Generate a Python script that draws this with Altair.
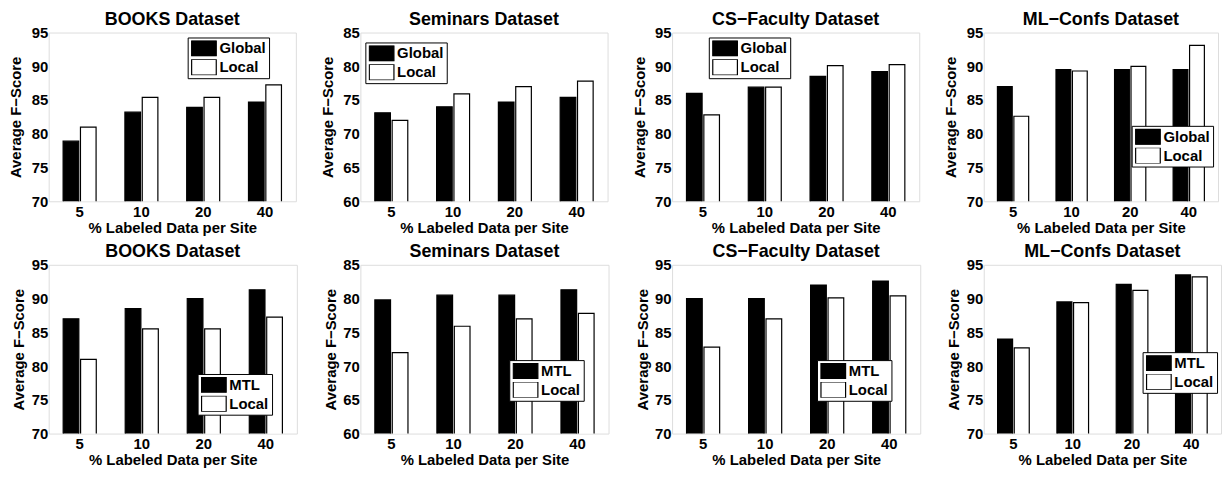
import altair as alt
import pandas as pd

pcts = ["5", "10", "20", "40"]

# Top row: Global vs Local
books_global = [78.9, 83.2, 83.9, 84.7]
books_local = [81.0, 85.4, 85.4, 87.25]
sem_global = [73.1, 74.0, 74.7, 75.4]
sem_local = [72.0, 75.9, 77.0, 77.8]
cs_global = [86.0, 86.9, 88.5, 89.2]
cs_local = [82.8, 86.9, 90.1, 90.25]
ml_global = [87.0, 89.5, 89.5, 89.5]
ml_local = [82.6, 89.3, 90.0, 93.1]

# Bottom row: MTL vs Local
books_mtl = [87.0, 88.5, 90.0, 91.3]
books_local2 = [81.0, 85.5, 85.5, 87.25]
sem_mtl = [79.8, 80.5, 80.5, 81.3]
sem_local2 = [72.0, 75.9, 77.0, 77.8]
cs_mtl = [90.0, 90.0, 92.0, 92.6]
cs_local2 = [82.8, 87.0, 90.1, 90.4]
ml_mtl = [84.0, 89.5, 92.1, 93.5]
ml_local2 = [82.7, 89.4, 91.2, 93.2]

FONT = "Liberation Sans"


def panel(title, lo, hi, name_a, vals_a, vals_b, lx, ly, w, yext, ytp):
    df = pd.DataFrame({
        "pct": pcts * 2,
        "method": [name_a] * 4 + ["Local"] * 4,
        "score": vals_a + vals_b,
    })
    order = [name_a, "Local"]
    return alt.Chart(
        df,
        title=alt.Title(title, fontSize=18, fontWeight="bold", font=FONT,
                        color="black", offset=-3, anchor="middle"),
    ).mark_bar(stroke="black", strokeWidth=1.2, clip=True).encode(
        x=alt.X("pct:N", sort=pcts,
                scale=alt.Scale(paddingInner=0, paddingOuter=0),
                axis=alt.Axis(title="% Labeled Data per Site", labelAngle=0,
                              labelFontSize=15, labelFontWeight="bold",
                              labelFont=FONT, labelColor="black",
                              labelPadding=3, ticks=False, tickSize=0,
                              domain=False, grid=False, titlePadding=1,
                              titleFontSize=15, titleFontWeight="bold",
                              titleFont=FONT, titleColor="black")),
        xOffset=alt.XOffset("method:N", sort=order,
                            scale=alt.Scale(paddingInner=0.1, paddingOuter=0.83)),
        y=alt.Y("score:Q",
                scale=alt.Scale(domain=[lo, hi], zero=False, nice=False),
                axis=alt.Axis(title="Average F\u2212Score",
                              values=list(range(lo, hi + 1, 5)),
                              labelFontSize=15, labelFontWeight="bold",
                              labelFont=FONT, labelColor="black",
                              labelPadding=1, ticks=False, tickSize=0,
                              domain=False, grid=False,
                              minExtent=yext, maxExtent=yext,
                              titlePadding=ytp, titleFontSize=15,
                              titleFontWeight="bold", titleFont=FONT,
                              titleColor="black")),
        y2=alt.datum(lo - 5),
        fill=alt.Fill("method:N", sort=order,
                      scale=alt.Scale(domain=order, range=["black", "white"]),
                      legend=alt.Legend(title=None, orient="none",
                                        legendX=lx, legendY=ly,
                                        direction="vertical",
                                        fillColor="white", strokeColor="black",
                                        padding=3,
                                        symbolType="M-1,-1H2.1V1H-1Z",
                                        symbolSize=256,
                                        symbolStrokeColor="black",
                                        symbolStrokeWidth=1.2,
                                        symbolOpacity=1,
                                        labelOffset=11,
                                        labelFont=FONT, labelFontSize=15,
                                        labelFontWeight="bold",
                                        labelColor="black",
                                        clipHeight=16,
                                        rowPadding=3)),
    ).properties(width=w, height=170)


panels = [
    panel("BOOKS Dataset", 70, 95, "Global", books_global, books_local, 140, 5, 249, 18, 7),
    panel("Seminars Dataset", 60, 85, "Global", sem_global, sem_local, 5, 10, 249, 18, 7),
    panel("CS\u2212Faculty Dataset", 70, 95, "Global", cs_global, cs_local, 37, 5, 249, 18, 7),
    panel("ML\u2212Confs Dataset", 70, 95, "Global", ml_global, ml_local, 149, 94, 236, 18, 7),
    panel("BOOKS Dataset", 70, 95, "MTL", books_mtl, books_local2, 150, 110, 250, 18, 4),
    panel("Seminars Dataset", 60, 85, "MTL", sem_mtl, sem_local2, 150, 96, 250, 18, 4),
    panel("CS\u2212Faculty Dataset", 70, 95, "MTL", cs_mtl, cs_local2, 146, 96, 250, 18, 4),
    panel("ML\u2212Confs Dataset", 70, 95, "MTL", ml_mtl, ml_local2, 160, 88, 239, 18, 4),
]

chart = alt.concat(*panels, columns=4, align="each",
                   spacing={"row": 6, "column": 22}).resolve_scale(
    fill="independent", y="independent", x="independent", xOffset="independent"
).resolve_legend(fill="independent").properties(
    padding={"left": 0, "top": 0, "right": 0, "bottom": 0}
).configure_view(stroke="black", strokeWidth=1.5).configure(background="white")

chart.save("out.html", embed_options={"renderer": "svg", "actions": False})
